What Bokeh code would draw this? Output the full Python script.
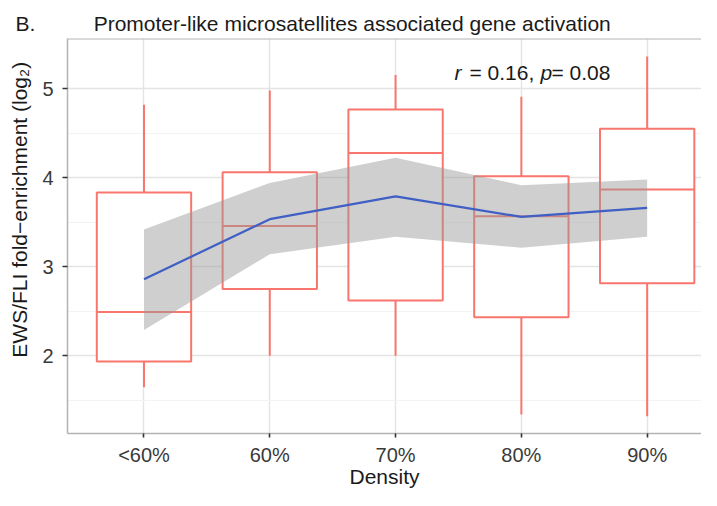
import numpy as np
from bokeh.plotting import figure
from bokeh.models import Range1d, FixedTicker, Label, Span, ColumnDataSource, Title
from bokeh.embed import file_html
from bokeh.resources import INLINE

# ---- data ----
categories = ["<60%", "60%", "70%", "80%", "90%"]
whisker_low = [1.645, 2.00, 2.00, 1.34, 1.32]
q1 = [1.936, 2.75, 2.62, 2.433, 2.814]
median = [2.49, 3.456, 4.277, 3.568, 3.867]
q3 = [3.833, 4.06, 4.766, 4.016, 4.55]
whisker_high = [4.82, 4.98, 5.155, 4.91, 5.363]
smooth_fit = [2.859, 3.534, 3.79, 3.56, 3.66]
smooth_low = [2.29, 3.139, 3.336, 3.213, 3.336]
smooth_high = [3.419, 3.94, 4.225, 3.915, 3.98]
y_ticks = [2, 3, 4, 5]
y_minor = [1.5, 2.5, 3.5, 4.5]

FONT = "Liberation Sans"
RED = "#F8766D"
BLUE = "#3F5FC4"
BORDER = "#b3b3b3"

x = np.arange(1, len(categories) + 1)
half = 0.375
src = ColumnDataSource(dict(
    x=x, left=x - half, right=x + half,
    lo=whisker_low, q1=q1, med=median, q3=q3, hi=whisker_high,
    fit=smooth_fit, flo=smooth_low, fhi=smooth_high,
))

Y0, Y1 = 1.126, 5.564
p = figure(width=701, height=490,
           x_range=Range1d(0.392, 5.432), y_range=Range1d(Y0, Y1),
           output_backend="svg", toolbar_location=None,
           min_border_left=67, min_border_right=0,
           min_border_top=38, min_border_bottom=56)
p.outline_line_color = None
p.background_fill_color = "white"
p.border_fill_color = "white"

# title ("B." tag + title text)
nb = "\u00a0" * 10
p.title = Title(text="B." + nb + "Promoter-like microsatellites associated gene activation",
                align="left", offset=-52, standoff=8, vertical_align="bottom",
                text_font=FONT, text_font_size="21px", text_font_style="normal",
                text_color="#1a1a1a")

# axes
p.xaxis.ticker = FixedTicker(ticks=list(x), minor_ticks=[])
p.xaxis.major_label_overrides = {int(i): c for i, c in zip(x, categories)}
p.yaxis.ticker = FixedTicker(ticks=y_ticks, minor_ticks=y_minor)
for ax in (p.xaxis[0], p.yaxis[0]):
    ax.axis_line_color = BORDER
    ax.axis_line_width = 1.5
    ax.major_tick_line_color = "#333333"
    ax.major_tick_line_width = 1.6
    ax.major_tick_out = 5
    ax.major_tick_in = 0
    ax.minor_tick_line_color = None
    ax.major_label_text_font = FONT
    ax.major_label_text_font_size = "20px"
    ax.major_label_text_color = "#3a3a3a"
    ax.axis_label_text_font = FONT
    ax.axis_label_text_font_size = "21px"
    ax.axis_label_text_font_style = "normal"
    ax.axis_label_text_color = "#1a1a1a"
p.xaxis.axis_label = "Density"
p.xaxis.major_tick_out = 4
p.xaxis.major_label_standoff = 6
p.xaxis.axis_label_standoff = -4
# leading non-breaking spaces shift the rotated title up, as in the reference
p.yaxis.axis_label = "\u00a0" * 9 + "EWS/FLI fold\u2212enrichment (log\u2082)"
p.yaxis.major_label_standoff = 9
p.yaxis.axis_label_standoff = 8

# top panel border
p.add_layout(Span(location=Y1, dimension="width", line_color=BORDER, line_width=2))

# grid
p.xgrid.ticker = FixedTicker(ticks=list(x), minor_ticks=[])
p.xgrid.grid_line_color = "#e4e4e4"
p.xgrid.grid_line_width = 1.4
p.ygrid.grid_line_color = "#e4e4e4"
p.ygrid.grid_line_width = 1.4
p.ygrid.minor_grid_line_color = "#f3f3f3"
p.ygrid.minor_grid_line_width = 1.0

# boxplots
p.segment(x0="x", y0="q3", x1="x", y1="hi", source=src, line_color=RED, line_width=2)
p.segment(x0="x", y0="q1", x1="x", y1="lo", source=src, line_color=RED, line_width=2)
p.quad(left="left", right="right", bottom="q1", top="q3", source=src,
       fill_color="white", line_color=RED, line_width=2)
p.segment(x0="left", y0="med", x1="right", y1="med", source=src, line_color=RED, line_width=2)

# smoother band + line
p.varea(x="x", y1="flo", y2="fhi", source=src, fill_color="#999999", fill_alpha=0.47)
p.line(x="x", y="fit", source=src, line_color=BLUE, line_width=2.2)

# correlation annotation
ax0, ay0 = 3.468, 5.186
pieces = [("r", "italic", 0), ("= 0.16,", "normal", 15), ("p", "italic", 86), ("= 0.08", "normal", 97)]
for txt, style, off in pieces:
    p.add_layout(Label(x=ax0, y=ay0, x_offset=off, text=txt, text_font=FONT,
                       text_font_size="21px", text_font_style=style, text_color="#1a1a1a",
                       text_baseline="alphabetic", text_align="left"))

open("out.html", "w").write(file_html(p, INLINE))
